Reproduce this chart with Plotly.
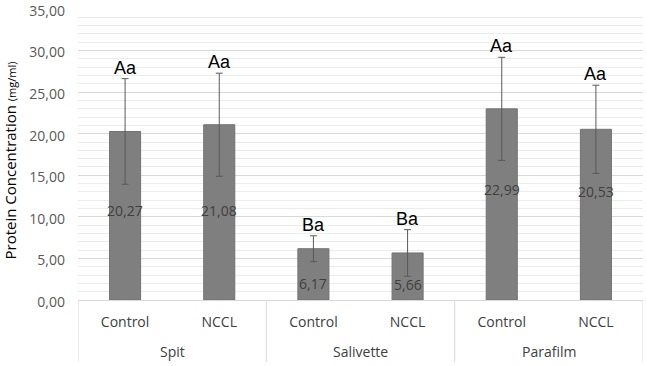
import plotly.graph_objects as go

# ---- data ----
group_names = ["Spit", "Salivette", "Parafilm"]
groups = ["Spit", "Spit", "Salivette", "Salivette", "Parafilm", "Parafilm"]
treatments = ["Control", "NCCL", "Control", "NCCL", "Control", "NCCL"]
means = [20.27, 21.08, 6.17, 5.66, 22.99, 20.53]
errors = [6.35, 6.2, 1.55, 2.8, 6.2, 5.3]
letters = ["Aa", "Aa", "Ba", "Ba", "Aa", "Aa"]
value_texts = ["20,27", "21,08", "6,17", "5,66", "22,99", "20,53"]
# vertical placement of the value labels (data units)
value_label_y = [10.75, 10.75, 2.0, 1.9, 13.3, 13.05]

y_ticks = [0, 5, 10, 15, 20, 25, 30, 35]

xpos = list(range(len(treatments)))

TOP, BOTTOM = 9, 66
PLOT_H = 366 - TOP - BOTTOM

fig = go.Figure()
fig.add_trace(go.Bar(
    x=xpos,
    y=means,
    marker=dict(color="#7f7f7f", line=dict(color="#737373", width=1)),
    error_y=dict(type="data", array=errors, visible=True,
                 color="#595959", thickness=1, width=3.5),
    hoverinfo="skip",
))

annotations = []
for i, (m, e, lt) in enumerate(zip(means, errors, letters)):
    annotations.append(dict(
        x=xpos[i], y=m + e, xref="x", yref="y", text=lt, showarrow=False,
        yanchor="bottom", yshift=-1,
        font=dict(family="Liberation Sans, Arial", size=18, color="#000000"),
    ))
for i, (vt, vy) in enumerate(zip(value_texts, value_label_y)):
    annotations.append(dict(
        x=xpos[i], y=vy, xref="x", yref="y", text=vt, showarrow=False,
        font=dict(family="Open Sans", size=14, color="#404040"),
    ))
# group labels (second level of the category axis)
shapes = []
for g in group_names:
    idx = [i for i, gg in enumerate(groups) if gg == g]
    annotations.append(dict(
        x=sum(idx) / len(idx), y=0, xref="x", yref="paper",
        yanchor="middle", yshift=-51, showarrow=False, text=g,
        font=dict(family="Open Sans", size=14, color="#404040"),
    ))
# dividers between groups
bounds = [-0.5]
for j in range(1, len(groups)):
    if groups[j] != groups[j - 1]:
        bounds.append(j - 0.5)
bounds.append(len(groups) - 0.5)
for b in bounds:
    shapes.append(dict(type="line", xref="x", yref="paper",
                       x0=b, x1=b, y0=0, y1=-62 / PLOT_H,
                       line=dict(color="#d9d9d9", width=1)))

annotations.append(dict(
    x=0, y=0.5, xref="paper", yref="paper", xanchor="center", yanchor="middle",
    xshift=-69, yshift=-6, textangle=-90, showarrow=False,
    text="Protein Concentration <span style='font-size:11px'>(mg/ml)</span>",
    font=dict(family="Open Sans", size=15, color="#000000"),
))

fig.update_layout(
    width=647, height=366,
    margin=dict(l=78, r=4, t=TOP, b=BOTTOM),
    plot_bgcolor="white", paper_bgcolor="white",
    separators=",.",
    bargap=0.67,
    showlegend=False,
    annotations=annotations,
    shapes=shapes,
    xaxis=dict(
        range=[-0.5, len(treatments) - 0.5],
        tickvals=xpos, ticktext=treatments,
        showline=True, linecolor="#d9d9d9", linewidth=1,
        ticks="", ticklabelstandoff=9,
        tickfont=dict(family="Open Sans", size=14, color="#404040"),
        showgrid=False, zeroline=False, automargin=False,
    ),
    yaxis=dict(
        range=[0, 35],
        tickvals=y_ticks,
        tickformat=".2f",
        showgrid=True, gridcolor="#d9d9d9", gridwidth=1,
        minor=dict(dtick=1, showgrid=True, gridcolor="#ececec", gridwidth=1),
        zeroline=False, showline=False,
        ticks="",
        ticklabelstandoff=12,
        ticklabelshift=2,
        ticklabeloverflow="allow",
        automargin=False,
        tickfont=dict(family="Open Sans", size=14, color="#595959"),
    ),
)

fig.write_html("out.html",
               config={"displayModeBar": False},
               post_script="document.body.style.margin='0';document.body.style.padding='0';")
